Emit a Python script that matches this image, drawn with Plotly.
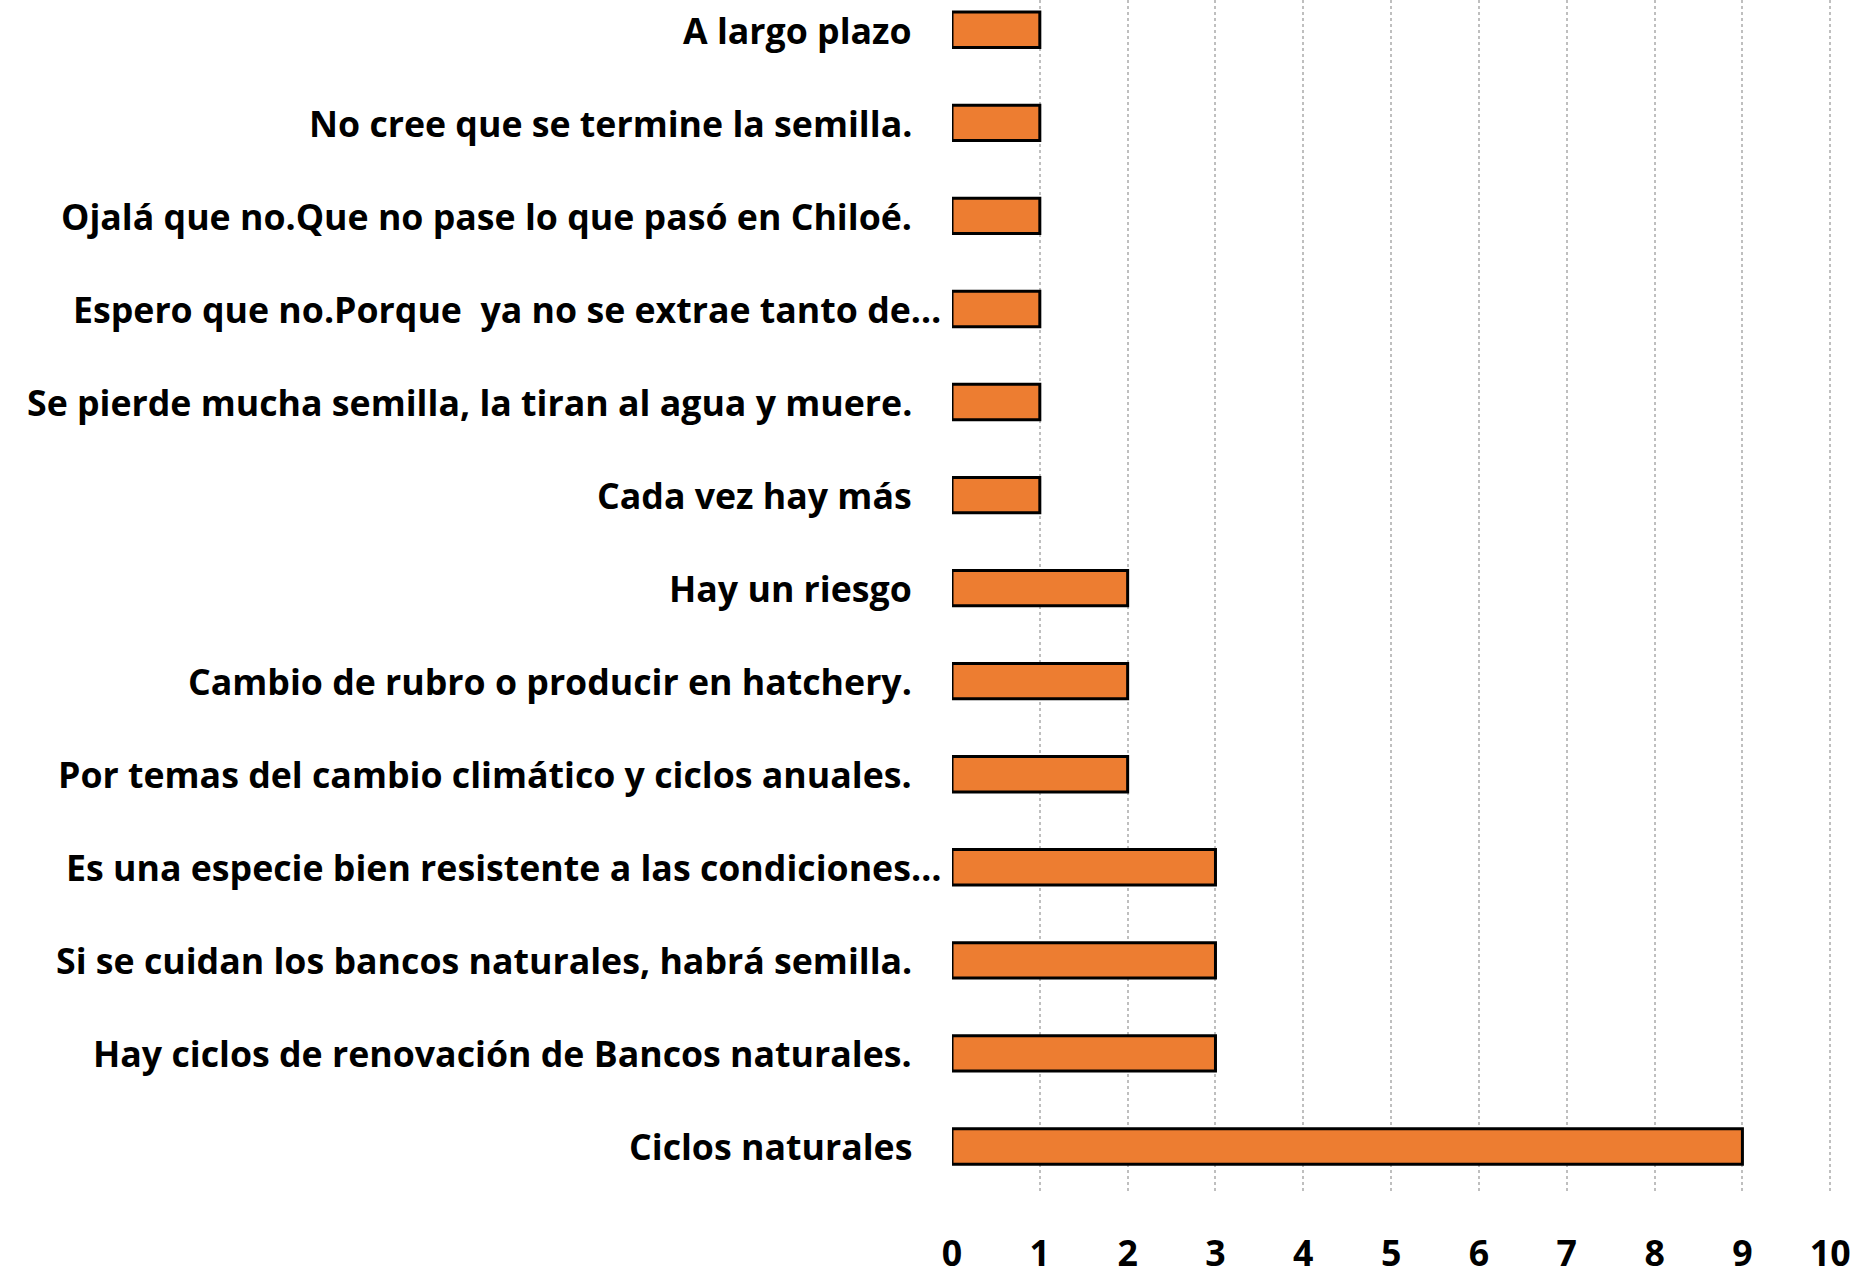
import plotly.graph_objects as go

# Categories listed bottom to top, with response counts
categories = [
    "Ciclos naturales",
    "Hay ciclos de renovación de Bancos naturales.",
    "Si se cuidan los bancos naturales, habrá semilla.",
    "Es una especie bien resistente a las condiciones…",
    "Por temas del cambio climático y ciclos anuales.",
    "Cambio de rubro o producir en hatchery.",
    "Hay un riesgo",
    "Cada vez hay más",
    "Se pierde mucha semilla, la tiran al agua y muere.",
    "Espero que no.Porque  ya no se extrae tanto de…",
    "Ojalá que no.Que no pase lo que pasó en Chiloé.",
    "No cree que se termine la semilla.",
    "A largo plazo",
]
counts = [9, 3, 3, 3, 2, 2, 2, 1, 1, 1, 1, 1, 1]
x_ticks = list(range(0, 11))

FONT = "Open Sans"
FSIZE = 35.7

fig = go.Figure(
    go.Bar(
        x=counts,
        y=list(range(len(categories))),
        orientation="h",
        marker=dict(color="#ED7D31", line=dict(color="#000000", width=3)),
        width=0.38,
    )
)

# Category labels placed beside the axis; truncated ones sit closer to it
annotations = []
for i, label in enumerate(categories):
    truncated = label.endswith("…")
    annotations.append(
        dict(
            x=0, xref="paper", y=i, yref="y",
            text=label, showarrow=False,
            xanchor="right", yanchor="middle",
            xshift=-9 if truncated else -38,
            font=dict(family=FONT, size=FSIZE, color="#000000", weight="bold"),
        )
    )

fig.update_layout(
    width=1857, height=1276,
    margin=dict(l=952, r=25, t=0, b=80),
    paper_bgcolor="white", plot_bgcolor="white",
    showlegend=False,
    annotations=annotations,
    xaxis=dict(
        range=[0, 10.02], tickvals=x_ticks, ticktext=[str(v) for v in x_ticks],
        showgrid=True, gridcolor="#bfbfbf", gridwidth=2, griddash="dot",
        zeroline=False, showline=False, ticks="",
        ticklabelstandoff=36,
        tickfont=dict(family=FONT, size=FSIZE, color="#000000", weight="bold"),
    ),
    yaxis=dict(
        range=[-0.5, 12.32], showticklabels=False, showgrid=False,
        zeroline=False, showline=False, ticks="",
    ),
)

fig.write_html("out.html")
